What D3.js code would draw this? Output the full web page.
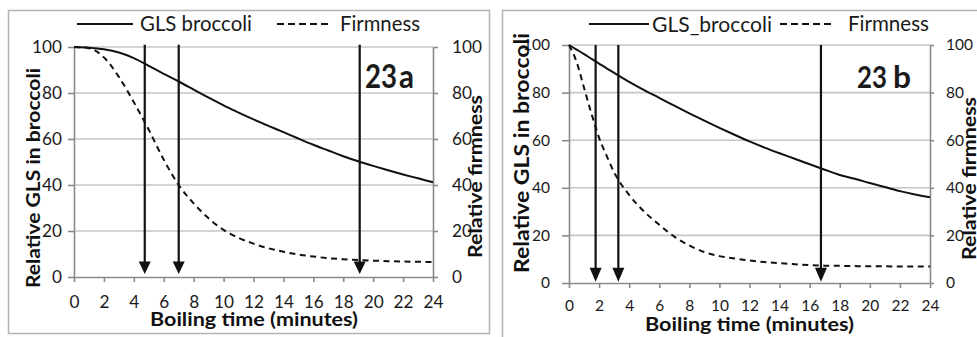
<!DOCTYPE html>
<html>
<head>
<meta charset="utf-8">
<script src="https://cdn.jsdelivr.net/npm/d3@7/dist/d3.min.js"></script>
<style>
  html, body { margin: 0; padding: 0; background: #fff; }
  svg { display: block; font-family: Lato, "Open Sans", sans-serif; }
</style>
</head>
<body>
<svg id="chart" width="977" height="337"></svg>
<script>
// ---------- data ----------
const xTicks = [0, 2, 4, 6, 8, 10, 12, 14, 16, 18, 20, 22, 24];
const yTicks = [0, 20, 40, 60, 80, 100];

// Panel 23a
const timeA = [0,1,2,3,4,5,6,7,8,9,10,11,12,13,14,15,16,17,18,19,20,21,22,23,24];
const glsA  = [100,99.7,99,97.6,95.2,91.8,88.3,85,81.5,78,74.6,71.5,68.5,65.7,63,60.2,57.5,55,52.5,50.3,48.3,46.4,44.6,42.9,41.2];
const firmA = [100,99.5,95.5,87,76,64,51,40,32,25.5,20.5,17,14.5,12.5,11,9.8,8.9,8.2,7.7,7.4,7.1,6.9,6.7,6.6,6.5];
const arrowsA = [4.73, 7.0, 19.1];

// Panel 23b
const timeB = [0,0.5,1,1.5,2,2.5,3,4,5,6,7,8,9,10,11,12,13,14,15,16,17,18,19,20,21,22,23,24];
const glsB  = [100,98.1,96.2,94.2,92.2,90.2,88.3,84.5,81,77.8,74.5,71.3,68.2,65.2,62.3,59.5,56.9,54.5,52.2,49.9,47.6,45.4,43.8,42,40.3,38.6,37.2,36];
const firmB = [100,93,82,71,61,53.5,46.5,37,30,24.5,19.5,15.8,13,11.3,10.3,9.5,8.8,8.3,7.9,7.5,7.3,7.2,7.1,7.0,7.0,6.9,6.9,6.9];
const arrowsB = [1.77, 3.28, 16.75];

const legendA = ["GLS broccoli", "Firmness"];
const legendB = ["GLS_broccoli", "Firmness"];
const xTitle = "Boiling time (minutes)";
const yTitle = "Relative GLS in broccoli";
const y2Title = "Relative firmness";

// ---------- layout ----------
const panels = [
  {
    time: timeA, gls: glsA, firm: firmA, arrows: arrowsA, legend: legendA,
    tag: ["23", "a"],
    border: {x: 8.5, y: 10.5, w: 481, h: 323},
    plot: {x0: 74, x1: 433, y0: 277, y1: 47},
    tickFit: 30, yTickSize: 6, yPad: 6, y2TickSize: 5, y2Pad: 14, xLabelCenter: 302,
    leg: {l1: [77, 133], t1: 140, w1: 112, l2: [277, 328], t2: 340, w2: 80, y: 24},
    xt: {cx: 254, base: 326, w: 208, fs: 18},
    yt: {bx: 40, cy: 178, len: 220, fs: 19},
    y2t: {bx: 482, cy: 176.5, len: 163, fs: 19},
    tagPos: {x1: 365, w1: 32, x2: 399, w2: 15, base: 88, fs: 32},
    arrowTop: 101, arrowTip: 1.3, headW: 12, headH: 12.5
  },
  {
    time: timeB, gls: glsB, firm: firmB, arrows: arrowsB, legend: legendB,
    tag: ["23", "b"],
    border: {x: 502.5, y: 10.5, w: 500, h: 340},
    plot: {x0: 569, x1: 930, y0: 283, y1: 45},
    tickFit: 27, yTickSize: 7, yPad: 12, y2TickSize: 4, y2Pad: 12, xLabelCenter: 305.5,
    leg: {l1: [589, 649], t1: 652, w1: 120, l2: [780, 835], t2: 848, w2: 81, y: 24},
    xt: {cx: 749.5, base: 331, w: 209, fs: 18},
    yt: {bx: 529, cy: 153, len: 240, fs: 20},
    y2t: {bx: 975.5, cy: 178.5, len: 163, fs: 19},
    tagPos: {x1: 857, w1: 30, x2: 893, w2: 18, base: 88, fs: 30},
    arrowTop: 100, arrowTip: 0.5, headW: 12, headH: 14
  }
];

const svg = d3.select("#chart");
const GRID = "#c6c6c6", AXIS = "#8a8a8a", INK = "#111";

function fitWidth(sel, target) {
  const w = sel.node().getComputedTextLength();
  const fs = parseFloat(sel.attr("font-size"));
  sel.attr("font-size", (fs * target / w).toFixed(2));
  return fs * target / w;
}

panels.forEach(p => {
  const g = svg.append("g");
  g.append("rect")
    .attr("x", p.border.x).attr("y", p.border.y)
    .attr("width", p.border.w).attr("height", p.border.h)
    .attr("fill", "none").attr("stroke", "#b4b4b4").attr("stroke-width", 1.5);

  const x = d3.scaleLinear().domain([0, 24]).range([p.plot.x0, p.plot.x1]);
  const y = d3.scaleLinear().domain([0, 100]).range([p.plot.y0, p.plot.y1]);

  // gridlines
  g.append("g").selectAll("line").data(yTicks.filter(v => v > 0)).join("line")
    .attr("x1", x(0)).attr("x2", x(24))
    .attr("y1", d => y(d)).attr("y2", d => y(d))
    .attr("stroke", GRID).attr("stroke-width", 1.6);

  // measure tick font size
  const probe = g.append("text").attr("font-size", 16).text("100");
  const tickFs = fitWidth(probe, p.tickFit);
  probe.remove();

  // axes
  const styleAxis = (ax) => {
    ax.select(".domain").attr("stroke", AXIS).attr("stroke-width", 1.6);
    ax.selectAll(".tick line").attr("stroke", AXIS).attr("stroke-width", 1.6);
    ax.selectAll(".tick text").attr("fill", "#1a1a1a")
      .attr("font-size", tickFs).attr("font-family", "Lato, 'Open Sans', sans-serif");
  };

  const axB = g.append("g").attr("transform", `translate(0,${y(0)})`)
    .call(d3.axisBottom(x).tickValues(xTicks).tickSize(5).tickSizeOuter(0).tickFormat(d3.format("d")));
  styleAxis(axB);
  axB.selectAll(".tick text").attr("y", p.xLabelCenter - y(0)).attr("dy", "0.36em");

  const axL = g.append("g").attr("transform", `translate(${x(0)},0)`)
    .call(d3.axisLeft(y).tickValues(yTicks).tickSize(p.yTickSize).tickPadding(p.yPad).tickSizeOuter(0));
  styleAxis(axL);

  const axR = g.append("g").attr("transform", `translate(${x(24)},0)`)
    .call(d3.axisRight(y).tickValues(yTicks).tickSize(p.y2TickSize).tickPadding(p.y2Pad).tickSizeOuter(0));
  styleAxis(axR);

  // curves
  const line = (vals) => d3.line()
    .x((d, i) => x(p.time[i])).y(d => y(d))
    .curve(d3.curveMonotoneX)(vals);
  g.append("path").attr("d", line(p.gls))
    .attr("fill", "none").attr("stroke", INK).attr("stroke-width", 2);
  g.append("path").attr("d", line(p.firm))
    .attr("fill", "none").attr("stroke", INK).attr("stroke-width", 2)
    .attr("stroke-dasharray", "6,4.5");

  // arrows
  p.arrows.forEach(t => {
    const ax = x(t);
    const tip = y(p.arrowTip);
    g.append("line").attr("x1", ax).attr("x2", ax)
      .attr("y1", y(p.arrowTop)).attr("y2", tip - p.headH + 1)
      .attr("stroke", INK).attr("stroke-width", 2.2);
    g.append("path")
      .attr("d", `M${ax - p.headW / 2},${tip - p.headH} L${ax + p.headW / 2},${tip - p.headH} L${ax},${tip} Z`)
      .attr("fill", INK);
  });

  // legend
  g.append("line").attr("x1", p.leg.l1[0]).attr("x2", p.leg.l1[1])
    .attr("y1", p.leg.y).attr("y2", p.leg.y).attr("stroke", INK).attr("stroke-width", 2);
  g.append("line").attr("x1", p.leg.l2[0]).attr("x2", p.leg.l2[1])
    .attr("y1", p.leg.y).attr("y2", p.leg.y).attr("stroke", INK).attr("stroke-width", 2)
    .attr("stroke-dasharray", "7,4");
  const lt1 = g.append("text").attr("x", p.leg.t1).attr("y", p.leg.y).attr("dy", "0.36em")
    .attr("font-size", 18).attr("fill", "#1a1a1a").text(p.legend[0]);
  fitWidth(lt1, p.leg.w1);
  const lt2 = g.append("text").attr("x", p.leg.t2).attr("y", p.leg.y).attr("dy", "0.36em")
    .attr("font-size", 18).attr("fill", "#1a1a1a").text(p.legend[1]);
  fitWidth(lt2, p.leg.w2);

  // axis titles (fixed size, stretched to the reference's width)
  g.append("text").attr("x", p.xt.cx).attr("y", p.xt.base)
    .attr("text-anchor", "middle").attr("font-weight", "bold").attr("font-size", p.xt.fs)
    .attr("textLength", p.xt.w).attr("lengthAdjust", "spacingAndGlyphs")
    .attr("fill", "#111").text(xTitle);

  g.append("text").attr("transform", `translate(${p.yt.bx},${p.yt.cy}) rotate(-90)`)
    .attr("text-anchor", "middle").attr("font-weight", "bold").attr("font-size", p.yt.fs)
    .attr("textLength", p.yt.len).attr("lengthAdjust", "spacingAndGlyphs")
    .attr("fill", "#111").text(yTitle);

  g.append("text").attr("transform", `translate(${p.y2t.bx},${p.y2t.cy}) rotate(-90)`)
    .attr("text-anchor", "middle").attr("font-weight", "bold").attr("font-size", p.y2t.fs)
    .attr("textLength", p.y2t.len).attr("lengthAdjust", "spacingAndGlyphs")
    .attr("fill", "#111").text(y2Title);

  // panel tag
  g.append("text").attr("x", p.tagPos.x1).attr("y", p.tagPos.base)
    .attr("font-weight", "bold").attr("font-size", p.tagPos.fs).attr("fill", "#1a1a1a")
    .attr("textLength", p.tagPos.w1).attr("lengthAdjust", "spacingAndGlyphs")
    .text(p.tag[0]);
  g.append("text").attr("x", p.tagPos.x2).attr("y", p.tagPos.base)
    .attr("font-weight", "bold").attr("font-size", p.tagPos.fs).attr("fill", "#1a1a1a")
    .attr("textLength", p.tagPos.w2).attr("lengthAdjust", "spacingAndGlyphs")
    .text(p.tag[1]);
});
</script>
</body>
</html>
